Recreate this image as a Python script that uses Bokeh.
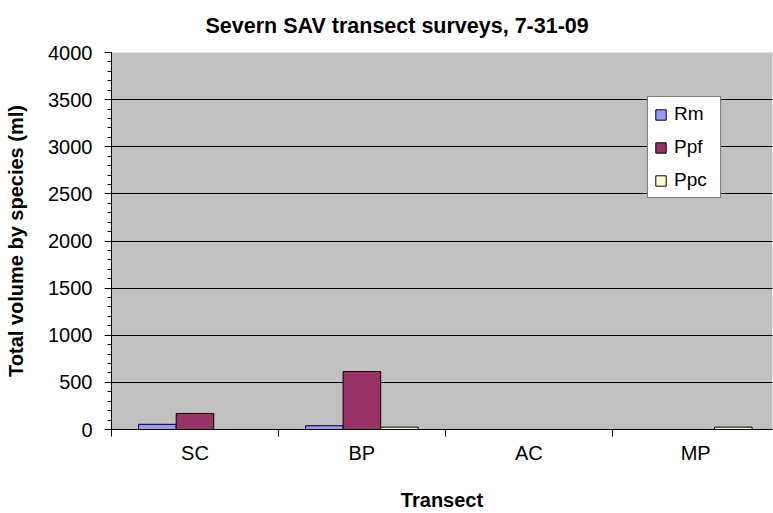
from bokeh.plotting import figure
from bokeh.models import Range1d, FixedTicker, ColumnDataSource, Legend, LegendItem
from bokeh.transform import dodge
from bokeh.embed import file_html
from bokeh.resources import INLINE

# ---- data ----
categories = ["SC", "BP", "AC", "MP"]
rm = [55, 40, 0, 0]
ppf = [170, 615, 0, 0]
ppc = [0, 25, 0, 25]
series_names = ["Rm", "Ppf", "Ppc"]
series_colors = ["#9999FF", "#993366", "#FFFFCC"]
y_ticks = [0, 500, 1000, 1500, 2000, 2500, 3000, 3500, 4000]
y_minor = list(range(0, 4001, 100))
title_text = "Severn SAV transect surveys, 7-31-09"

FONT = "Liberation Sans"

xpos = [i + 0.5 for i in range(len(categories))]
src = ColumnDataSource(dict(x=xpos, Rm=rm, Ppf=ppf, Ppc=ppc))

p = figure(width=773, height=513, output_backend="svg", toolbar_location=None,
           x_range=Range1d(0, 3.96), y_range=Range1d(0, 4000),
           min_border_left=111, min_border_right=1, min_border_top=52, min_border_bottom=82,
           background_fill_color="#C0C0C0", border_fill_color="white",
           outline_line_color=None)

bw = 0.225
offsets = [-bw, 0.0, bw]
items = []
for name, col, off in zip(series_names, series_colors, offsets):
    r = p.vbar(x=dodge("x", off), top=name, bottom=0, width=bw, source=src,
               fill_color=col, line_color="black", line_width=1)
    items.append(LegendItem(label=name, renderers=[r]))

legend = Legend(items=items, location=(536, 231), orientation="vertical",
                background_fill_color="white", background_fill_alpha=1.0,
                border_line_color="black", border_line_width=1,
                label_text_font=FONT, label_text_font_size="19px", label_text_color="black",
                glyph_width=13, glyph_height=13, label_standoff=7, label_width=40,
                label_height=22, spacing=11, padding=6, margin=0)
p.add_layout(legend)

# title
p.title.text = title_text
p.title.text_font = FONT
p.title.text_font_size = "21.5px"
p.title.text_font_style = "bold"
p.title.text_color = "black"
p.title.align = "left"
p.title.offset = 94
p.title.vertical_align = "top"
p.title.standoff = 26

# x axis
xa = p.xaxis[0]
xa.ticker = FixedTicker(ticks=xpos, minor_ticks=[0, 1, 2, 3, 4])
xa.major_label_overrides = {x: c for x, c in zip(xpos, categories)}
xa.major_tick_out = 0
xa.major_tick_in = 0
xa.minor_tick_out = 7
xa.minor_tick_in = 0
xa.major_label_standoff = 5
xa.axis_label = "Transect"
xa.axis_label_standoff = 22

# y axis
ya = p.yaxis[0]
ya.ticker = FixedTicker(ticks=y_ticks, minor_ticks=y_minor)
ya.major_tick_out = 7
ya.major_tick_in = 0
ya.minor_tick_out = 4
ya.minor_tick_in = 0
ya.major_label_standoff = 12
ya.axis_label = "Total volume by species (ml)"
ya.axis_label_standoff = 18

for ax in (xa, ya):
    ax.axis_line_color = "black"
    ax.major_tick_line_color = "black"
    ax.minor_tick_line_color = "black"
    ax.major_label_text_font = FONT
    ax.major_label_text_font_size = "20px"
    ax.major_label_text_color = "black"
    ax.axis_label_text_font = FONT
    ax.axis_label_text_font_size = "20px"
    ax.axis_label_text_font_style = "bold"
    ax.axis_label_text_color = "black"

p.xgrid.visible = False
p.ygrid.ticker = FixedTicker(ticks=y_ticks)
p.ygrid.grid_line_color = "black"
p.ygrid.grid_line_width = 1

open("out.html", "w").write(file_html(p, INLINE))
